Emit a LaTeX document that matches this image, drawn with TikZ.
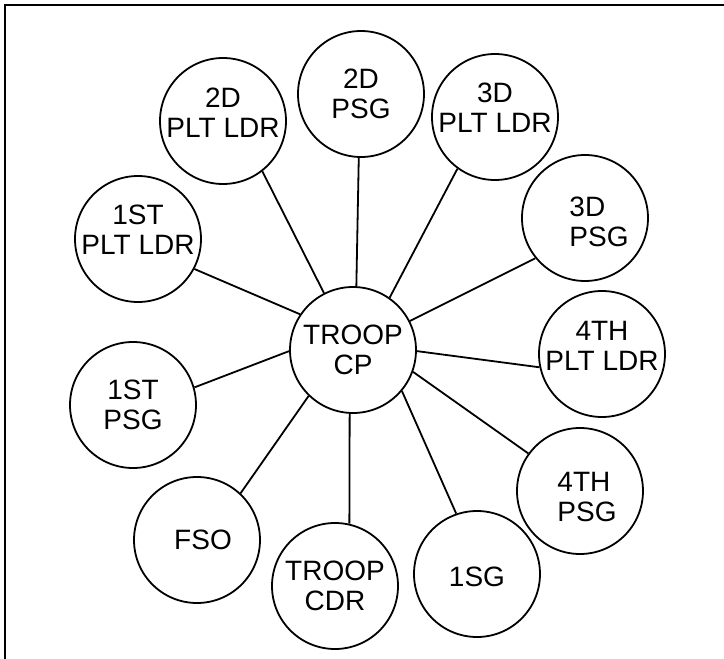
\documentclass[tikz,border=0pt]{standalone}
\usepackage{fontspec}
\setmainfont{Liberation Sans}

\begin{document}
\begin{tikzpicture}[
    x=0.5pt, y=-0.5pt,
    post/.style={circle, draw, line width=0.9pt, minimum size=63pt, inner sep=0pt},
    lbl/.style={align=center, inner sep=0pt, font=\fontsize{14}{15}\selectfont},
    link/.style={line width=0.9pt}
]
    \useasboundingbox (0,0) rectangle (724,659);
    \draw[line width=1.15pt] (724,5) -- (5,5) -- (5,659);

    % command post in the middle
    \node[post, label={[lbl]center:TROOP\\CP}] (cp) at (353,350) {};

    % stations round it
    \node[post, label={[lbl]center:2D\\PSG}] (psgB) at (361,94) {};
    \node[post, label={[lbl, yshift=4pt]center:2D\\PLT LDR}] (ldrB) at (223,121) {};
    \node[post, label={[lbl, yshift=4.5pt]center:3D\\PLT LDR}] (ldrC) at (495,117) {};
    \node[post, label={[lbl, yshift=4.5pt]center:1ST\\PLT LDR}] (ldrA) at (138,239) {};
    \node[post, label={[lbl, align=left, xshift=7pt, yshift=-2pt]center:3D\\PSG}] (psgC) at (585,218) {};
    \node[post, label={[lbl]center:1ST\\PSG}] (psgA) at (133,405) {};
    \node[post, label={[lbl, yshift=4pt]center:4TH\\PLT LDR}] (ldrD) at (602,354) {};
    \node[post, label={[lbl, xshift=3pt]center:FSO}] (fso) at (197,540) {};
    \node[post, label={[lbl]center:TROOP\\CDR}] (cdr) at (335,586) {};
    \node[post, label={[lbl, yshift=-1.5pt]center:1SG}] (fsg) at (477,574) {};
    \node[post, label={[lbl, align=left, xshift=3.5pt, yshift=-3pt]center:4TH\\PSG}] (psgD) at (580,491) {};

    \draw[link] (cp.117.4) -- (ldrB.-52);
    \draw[link] (cp.146.6) -- (ldrA.-28);
    \draw[link] (cp.87) -- (psgB.-92);
    \draw[link] (cp.55.6) -- (ldrC.234.4);
    \draw[link] (cp.27.7) -- (psgC.219.4);
    \draw[link] (cp.-1.8) -- (ldrD.192);
    \draw[link] (cp.181.8) -- (psgA.16);
    \draw[link] (cp.226.9) -- (fso.47.2);
    \draw[link] (cp.267.4) -- (cdr.77.5);
    \draw[link] (cp.-40) -- (fsg.109);
    \draw[link] (cp.-20.5) -- (psgD.144.3);
\end{tikzpicture}
\end{document}
